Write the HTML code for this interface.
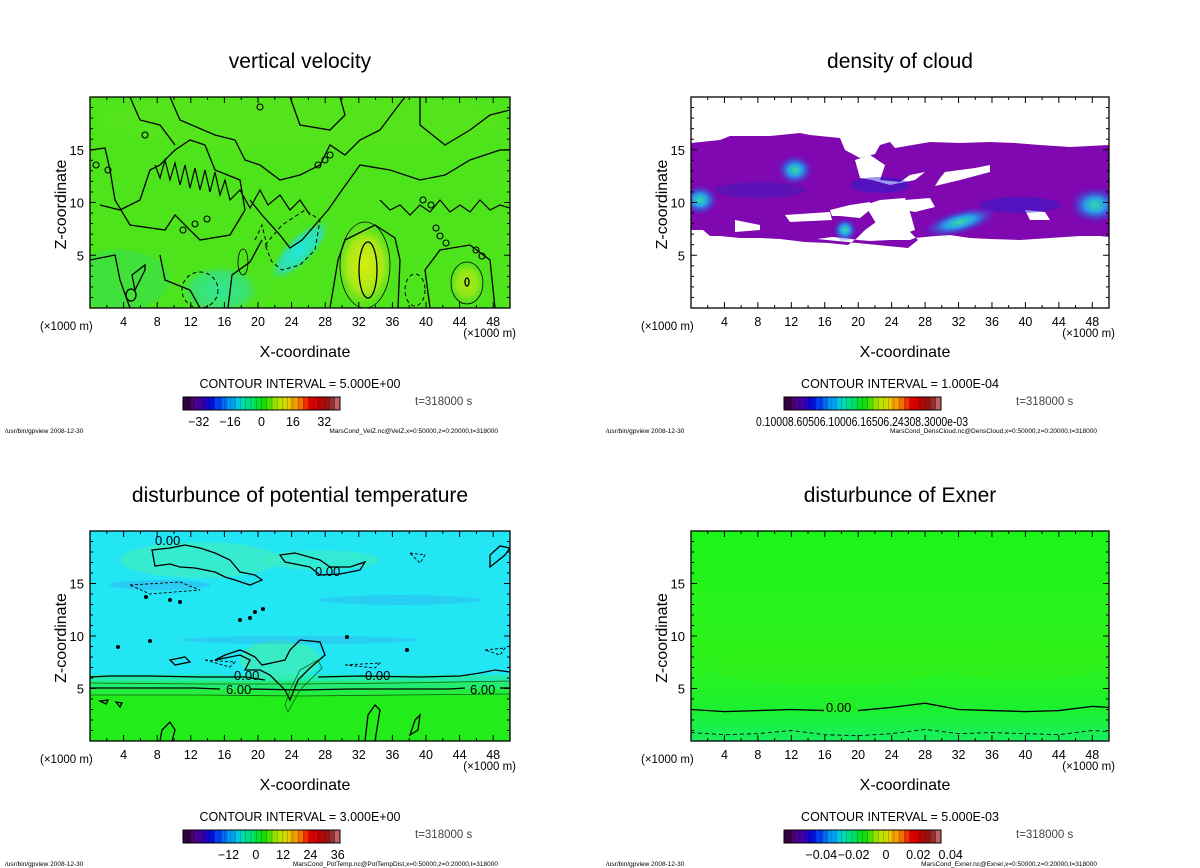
<!DOCTYPE html>
<html><head><meta charset="utf-8">
<style>
html,body{margin:0;padding:0;background:#fff;}
svg{display:block;font-family:"Liberation Sans","DejaVu Sans",sans-serif;}
</style></head>
<body>
<svg id="root" width="1200" height="868" viewBox="0 0 1200 868" xmlns="http://www.w3.org/2000/svg">
<defs>
<clipPath id="c0"><rect x="90" y="97" width="420" height="211"/></clipPath>
<clipPath id="c1"><rect x="691" y="97" width="418" height="211"/></clipPath>
<clipPath id="c2"><rect x="90" y="531" width="420" height="210"/></clipPath>
<clipPath id="c3"><rect x="691" y="531" width="418" height="210"/></clipPath>
<radialGradient id="gy"><stop offset="0" stop-color="#d8ee10"/><stop offset="0.6" stop-color="#a8e818"/><stop offset="1" stop-color="#5ee21c" stop-opacity="0"/></radialGradient>
<radialGradient id="gc"><stop offset="0" stop-color="#20e8e0"/><stop offset="0.7" stop-color="#30e0a0"/><stop offset="1" stop-color="#40e060" stop-opacity="0"/></radialGradient>
<radialGradient id="gb"><stop offset="0" stop-color="#30f0a0"/><stop offset="0.4" stop-color="#20b0f0"/><stop offset="1" stop-color="#2040e0" stop-opacity="0"/></radialGradient>
<linearGradient id="gex" x1="0" y1="0" x2="0" y2="1"><stop offset="0" stop-color="#1cf41a"/><stop offset="0.6" stop-color="#2ef21a"/><stop offset="0.85" stop-color="#1cf030"/><stop offset="1" stop-color="#18f060"/></linearGradient>
</defs>

<!-- Panel 1: vertical velocity -->
<g>
<text x="300" y="68" font-size="21" text-anchor="middle">vertical velocity</text>
<g clip-path="url(#c0)">
<rect x="90" y="97" width="420" height="211" fill="#4ee41c"/>
<ellipse cx="300" cy="120" rx="200" ry="30" fill="#58e41a" opacity="0.6"/>
<ellipse cx="120" cy="280" rx="50" ry="30" fill="#38e050" opacity="0.6"/>
<ellipse cx="220" cy="290" rx="40" ry="25" fill="url(#gc)" opacity="0.6"/>
<ellipse cx="365" cy="265" rx="30" ry="45" fill="url(#gy)"/>
<ellipse cx="467" cy="283" rx="18" ry="22" fill="url(#gy)" opacity="0.7"/>
<ellipse cx="300" cy="250" rx="14" ry="40" fill="url(#gc)" transform="rotate(45 300 250)"/>
<g fill="none" stroke="#000" stroke-width="1.3">
<path d="M90 150 L105 148 L110 170 L115 200 L130 225 L165 230 L175 215 L200 240 L230 235 L245 210 L240 180 L215 170 L205 145 L190 140 L175 150 L160 165 L150 170 L140 200 L120 210 L100 205"/>
<path d="M130 97 L140 120 L160 125 L175 145"/>
<path d="M170 97 L180 120 L215 135 L235 140 L245 160 L260 165 L280 180 L300 175 L320 165 L330 145 L345 155 L360 140 L380 130 L395 110 L405 97"/>
<path d="M290 97 L300 125 L330 130 L345 115 L340 97"/>
<path d="M420 97 L420 125 L445 145 L470 130 L490 115 L510 110"/>
<path d="M250 200 L262 215 L280 235 L290 248 L302 240 L328 210 L342 190 L360 165 L390 170 L420 180 L445 175 L470 160 L500 150 L510 150"/>
<path d="M90 260 L115 255 L120 280 L130 308"/>
<path d="M160 255 L165 280 L190 290 L200 308"/>
<path d="M228 308 L232 275 L250 262 L262 240"/>
<path d="M330 308 L338 260 L345 240 L375 225 L395 238 L400 260 L398 308"/>
<path d="M430 308 L425 270 L440 250 L470 245 L490 260 L495 308"/>
<ellipse cx="368" cy="270" rx="9" ry="28"/>
<ellipse cx="467" cy="282" rx="2" ry="4"/>
<ellipse cx="131" cy="295" rx="5" ry="6"/>
<path d="M132 275 L145 265 L145 270 L135 290 Z"/>
</g>
<g fill="none" stroke="#000" stroke-width="1" stroke-dasharray="4 3">
<path d="M265 245 L282 225 L305 210 L320 220 L315 250 L300 265 L282 270 L272 262 Z"/>
<ellipse cx="200" cy="290" rx="18" ry="18"/>
<ellipse cx="415" cy="290" rx="10" ry="16"/>
<path d="M255 240 L262 225 L268 250"/>
</g>
<g fill="none" stroke="#000" stroke-width="0.8">
<ellipse cx="365" cy="265" rx="25" ry="43"/>
<ellipse cx="467" cy="283" rx="16" ry="21"/>
<ellipse cx="243" cy="262" rx="5" ry="13"/>
</g>
<g fill="none" stroke="#000" stroke-width="1.2">
<path d="M155 165 L160 178 L165 160 L170 180 L175 163 L180 185 L185 165 L190 188 L195 168 L200 190 L205 170 L210 192 L215 172 L220 195 L225 180 L230 200 L240 190 L250 208 L260 190 L268 205 L280 195 L290 210 L300 200 L310 215"/>
<path d="M380 200 L390 210 L400 205 L410 215 L420 205 L430 212 L440 200 L450 212 L460 205 L470 212 L480 200 L490 210 L500 205 L510 208"/>
</g>
<g fill="none" stroke="#000" stroke-width="1.1">
<circle cx="318" cy="165" r="3"/><circle cx="325" cy="160" r="3"/><circle cx="330" cy="155" r="3"/>
<circle cx="183" cy="230" r="3"/><circle cx="195" cy="224" r="3"/><circle cx="207" cy="219" r="3"/>
<circle cx="436" cy="228" r="3"/><circle cx="440" cy="236" r="3"/><circle cx="446" cy="243" r="3"/>
<circle cx="476" cy="250" r="3"/><circle cx="482" cy="256" r="3"/><circle cx="260" cy="107" r="3"/>
<circle cx="145" cy="135" r="3"/><circle cx="96" cy="165" r="3"/><circle cx="108" cy="170" r="3"/>
<circle cx="423" cy="200" r="3"/><circle cx="431" cy="205" r="3"/>
</g>
</g>
</g>

<!-- Panel 2: cloud -->
<g>
<text x="900" y="68" font-size="21" text-anchor="middle">density of cloud</text>
<g clip-path="url(#c1)">
<path fill="#8008b0" d="M691 143 L720 140 L730 136 L770 136 L800 133 L810 135 L840 138 L845 150 L860 158 L875 154 L880 145 L890 142 L895 148 L930 142 L960 143 L990 142 L1015 143 L1040 145 L1070 147 L1109 145 L1109 237 L1100 236 L1080 236 L1050 238 L1020 240 L990 239 L970 238 L950 235 L935 236 L915 238 L910 240 L890 240 L870 241 L858 240 L845 238 L832 237 L817 239 L908 248 L918 240 L910 232 L905 222 L900 212 L895 205 L886 205 L885 212 L876 222 L865 230 L857 238 L848 245 L828 243 L805 242 L780 239 L760 238 L740 238 L720 236 L710 236 L703 230 L691 230 Z"/>
<g fill="#fff">
<path d="M855 160 L870 155 L885 165 L880 180 L900 182 L910 175 L925 172 L915 180 L890 185 L872 180 L860 178 Z"/>
<path d="M945 172 L975 168 L990 165 L990 172 L960 180 L935 186 L940 178 Z"/>
<path d="M905 200 L930 198 L935 207 L915 212 L905 210 Z"/>
<path d="M830 210 L850 205 L870 202 L870 210 L860 218 L840 216 L832 216 Z"/>
<path d="M865 205 L880 200 L905 198 L910 212 L915 230 L900 235 L880 230 Z"/>
<path d="M785 215 L830 212 L832 220 L790 222 Z"/>
<path d="M735 220 L760 225 L760 230 L735 232 Z"/>
<path d="M1025 210 L1045 212 L1050 220 L1030 220 Z"/>
</g>
<g opacity="0.9">
<ellipse cx="700" cy="200" rx="18" ry="15" fill="url(#gb)"/>
<ellipse cx="795" cy="170" rx="18" ry="15" fill="url(#gb)"/>
<ellipse cx="845" cy="230" rx="12" ry="12" fill="url(#gb)"/>
<ellipse cx="960" cy="222" rx="38" ry="12" fill="url(#gb)" transform="rotate(-15 960 222)"/>
<ellipse cx="1095" cy="205" rx="25" ry="18" fill="url(#gb)"/>
<ellipse cx="880" cy="185" rx="30" ry="8" fill="#2020d0" opacity="0.5"/>
<ellipse cx="1020" cy="205" rx="40" ry="8" fill="#2020d0" opacity="0.5"/>
<ellipse cx="760" cy="190" rx="45" ry="8" fill="#3020c0" opacity="0.5"/>
</g>
</g>
</g>

<!-- Panel 3: potential temperature -->
<g>
<text x="300" y="502" font-size="21" text-anchor="middle">disturbunce of potential temperature</text>
<g clip-path="url(#c2)">
<rect x="90" y="531" width="420" height="210" fill="#22ec1a"/>
<rect x="90" y="531" width="420" height="150" fill="#22e6f4"/>
<rect x="90" y="675" width="420" height="6" fill="#24ecb0"/>
<rect x="90" y="681" width="420" height="8" fill="#24ec70"/>
<rect x="90" y="689" width="420" height="6" fill="#24ec40"/>
<ellipse cx="200" cy="560" rx="80" ry="18" fill="#40ecc0" opacity="0.7"/>
<ellipse cx="320" cy="560" rx="60" ry="10" fill="#40ecc0" opacity="0.6"/>
<ellipse cx="280" cy="660" rx="40" ry="20" fill="#40ecb0" opacity="0.7"/>
<ellipse cx="160" cy="585" rx="50" ry="5" fill="#30b8f0" opacity="0.6"/>
<ellipse cx="400" cy="600" rx="80" ry="5" fill="#30b8f0" opacity="0.5"/>
<ellipse cx="300" cy="640" rx="120" ry="4" fill="#30b8f0" opacity="0.5"/>
<g fill="none" stroke="#000" stroke-width="1.3">
<path d="M90 677 L110 676 L150 676 L200 677 L245 677 L265 680"/>
<path d="M318 677 L360 676 L420 677 L460 676 L480 673 L495 670 L510 672"/>
<path d="M152 550 L170 548 L185 545 L200 548 L215 553 L230 560 L240 572 L255 575 L262 580 L250 585 L235 580 L225 577 L215 572 L195 568 L180 567 L170 564 L155 566 Z"/>
<path d="M280 555 L295 553 L320 560 L330 567 L350 567 L365 562 L360 570 L340 574 L320 575 L310 567 L285 562 Z"/>
<path d="M490 567 L505 555 L510 548 L500 546 L490 555 Z"/>
<path d="M215 660 L240 655 L250 660 L245 670 L260 670 L270 675 L285 690 L290 700 L298 680 L310 668 L325 655 L320 642 L300 640 L290 650 L285 660 L262 665 L255 657 L245 652 L240 650 L225 655 Z"/>
<path d="M170 660 L185 657 L190 662 L175 665 Z"/>
<path d="M365 741 L368 715 L375 705 L380 710 L375 741"/>
<path d="M160 741 L162 730 L170 722 L175 730 L172 741"/>
<path d="M410 735 L415 720 L420 715 L418 730 Z"/>
<path d="M100 701 L108 700 L106 704 Z"/>
<path d="M116 702 L122 703 L120 707 Z"/>
</g>
<g fill="none" stroke="#000" stroke-width="1.3">
<path d="M90 688 L130 688 L195 688 L220 689"/>
<path d="M250 689 L300 690 L350 689 L400 689 L450 689 L465 688"/>
<path d="M500 688 L510 688"/>
</g>
<g fill="none" stroke="#106010" stroke-width="0.8">
<path d="M90 683 L200 684 L300 684 L400 683 L510 681"/>
<path d="M90 695 L200 695 L300 696 L400 695 L510 694"/>
<path d="M285 705 L290 690 L300 670 L318 660 L322 668 L300 690 L288 712 Z"/>
</g>
<g fill="none" stroke="#000" stroke-width="0.9" stroke-dasharray="3 2">
<path d="M130 585 L180 582 L200 590 L150 594 Z"/>
<path d="M205 660 L235 662 L230 667 Z"/>
<path d="M345 665 L380 663 L375 668 Z"/>
<path d="M485 650 L505 648 L500 655 Z"/>
<path d="M410 553 L425 555 L420 563 Z"/>
</g>
<g fill="#000">
<circle cx="146" cy="597" r="2"/><circle cx="170" cy="600" r="2"/><circle cx="180" cy="602" r="2"/>
<circle cx="240" cy="620" r="2"/><circle cx="250" cy="618" r="2"/><circle cx="255" cy="612" r="2"/>
<circle cx="263" cy="609" r="2"/><circle cx="118" cy="647" r="2"/><circle cx="150" cy="641" r="2"/>
<circle cx="407" cy="650" r="2"/><circle cx="347" cy="637" r="2"/>
</g>
<g font-size="13">
<text x="155" y="545">0.00</text>
<text x="315" y="576">0.00</text>
<text x="234" y="680">0.00</text>
<text x="365" y="680">0.00</text>
<text x="226" y="694">6.00</text>
<text x="470" y="694">6.00</text>
</g>
</g>
</g>

<!-- Panel 4: Exner -->
<g>
<text x="900" y="502" font-size="21" text-anchor="middle">disturbunce of Exner</text>
<g clip-path="url(#c3)">
<rect x="691" y="531" width="418" height="210" fill="url(#gex)"/>
<ellipse cx="830" cy="665" rx="120" ry="20" fill="#30f018" opacity="0.6"/>
<ellipse cx="1020" cy="660" rx="90" ry="20" fill="#30f018" opacity="0.6"/>
<path id="exner-zero" fill="none" stroke="#000" stroke-width="1.3"/>
<path id="exner-neg" fill="none" stroke="#000" stroke-width="0.9" stroke-dasharray="4 3"/>
<rect x="824" y="700" width="34" height="12" fill="#22ee24"/>
<text x="826" y="712" font-size="13">0.00</text>
</g>
</g>

<g id="axes"></g>
</svg>

<script>
// ---- data ----
const xTicks = [4, 8, 12, 16, 20, 24, 28, 32, 36, 40, 44, 48];
const zTicks = [5, 10, 15];
const cbarTicksVelZ = [-32, -16, 0, 16, 32];
const cbarTicksPot = [-12, 0, 12, 24, 36];
const cbarTicksExner = [-0.04, -0.02, 0, 0.02, 0.04];
const exnerZeroX = [0, 4, 8, 12, 16, 20, 24, 28, 32, 36, 40, 44, 48, 50];
const exnerZeroZ = [3.0, 2.8, 2.9, 3.0, 2.9, 2.9, 3.2, 3.6, 3.0, 2.9, 2.8, 2.9, 3.3, 3.2];
const exnerNegZ = [0.8, 0.6, 0.7, 1.0, 0.6, 0.5, 0.7, 1.1, 0.7, 0.8, 0.7, 0.6, 1.0, 0.9];

const NS = "http://www.w3.org/2000/svg";
const axes = document.getElementById("axes");
function el(tag, attrs, parent, txt) {
  const e = document.createElementNS(NS, tag);
  for (const k in attrs) e.setAttribute(k, attrs[k]);
  if (txt !== undefined) e.textContent = txt;
  (parent || axes).appendChild(e);
  return e;
}
const panels = [
  {x0: 90, x1: 510, y0: 97, y1: 308, ci: "CONTOUR INTERVAL = 5.000E+00", cb: cbarTicksVelZ, cmin: -40, cmax: 40, foot: "MarsCond_VelZ.nc@VelZ,x=0:50000,z=0:20000,t=318000"},
  {x0: 691, x1: 1109, y0: 97, y1: 308, ci: "CONTOUR INTERVAL = 1.000E-04", cb: null, foot: "MarsCond_DensCloud.nc@DensCloud,x=0:50000,z=0:20000,t=318000"},
  {x0: 90, x1: 510, y0: 531, y1: 741, ci: "CONTOUR INTERVAL = 3.000E+00", cb: cbarTicksPot, cmin: -32, cmax: 37, foot: "MarsCond_PotTemp.nc@PotTempDist,x=0:50000,z=0:20000,t=318000"},
  {x0: 691, x1: 1109, y0: 531, y1: 741, ci: "CONTOUR INTERVAL = 5.000E-03", cb: cbarTicksExner, cmin: -0.063, cmax: 0.034, foot: "MarsCond_Exner.nc@Exner,x=0:50000,z=0:20000,t=318000"}
];
const rainbow = ["#300040","#500070","#4000a0","#2000c0","#0010e0","#0040f0","#0070f0","#00a0f0","#00c8e0","#00d8b0","#00e080","#00e040","#10e010","#50e000","#90e000","#c0e000","#e0d000","#f0a000","#f07000","#f03000","#e00000","#c00000","#a01010","#903030","#c06060"];
panels.forEach((p, i) => {
  const g = el("g", {}, axes);
  
  
  const sx = v => p.x0 + (v / 50) * (p.x1 - p.x0);
  const sz = v => p.y1 - (v / 20) * (p.y1 - p.y0);
  const frame = el("rect", {x: p.x0, y: p.y0, width: p.x1 - p.x0, height: p.y1 - p.y0, fill: "none", stroke: "#000", "stroke-width": 1.3}, g);
  
  
  for (let v = 2; v < 50; v += 2) {
    const L = v % 4 === 0 ? 6 : 3;
    el("line", {x1: sx(v), x2: sx(v), y1: p.y1, y2: p.y1 - L, stroke: "#000"}, g);
    el("line", {x1: sx(v), x2: sx(v), y1: p.y0, y2: p.y0 + L, stroke: "#000"}, g);
  }
  for (let v = 1; v < 20; v += 1) {
    const L = v % 5 === 0 ? 6 : 3;
    el("line", {x1: p.x0, x2: p.x0 + L, y1: sz(v), y2: sz(v), stroke: "#000"}, g);
    el("line", {x1: p.x1, x2: p.x1 - L, y1: sz(v), y2: sz(v), stroke: "#000"}, g);
  }
  xTicks.forEach(v => {
    const t = el("text", {x: sx(v), y: p.y1 + 18, "font-size": 12.5, "text-anchor": "middle"}, g, String(v));
    
    
  });
  zTicks.forEach(v => {
    const t = el("text", {x: p.x0 - 6, y: sz(v) + 5, "font-size": 13, "text-anchor": "end"}, g, String(v));
    
    
  });
  const u1 = el("text", {x: p.x0 - 50, y: p.y1 + 22, "font-size": 11.5}, g, "(×1000 m)");
  
  
  const u2 = el("text", {x: p.x1 + 6, y: p.y1 + 29, "font-size": 11.5, "text-anchor": "end"}, g, "(×1000 m)");
  
  
  const xl = el("text", {x: (p.x0 + p.x1) / 2 + 5, y: p.y1 + 49, "font-size": 16, "text-anchor": "middle"}, g, "X-coordinate");
  
  
  const yl = el("text", {x: 0, y: 0, "font-size": 16, "text-anchor": "middle", transform: `translate(${p.x0 - 24},${(p.y0 + p.y1) / 2 + 2}) rotate(-90)`}, g, "Z-coordinate");
  
  
  const ci = el("text", {x: (p.x0 + p.x1) / 2, y: p.y1 + 80, "font-size": 12.5, "text-anchor": "middle"}, g, p.ci);
  
  
  const cx0 = p.x0 + 93, cx1 = p.x0 + 250, cy0 = p.y1 + 89, cy1 = p.y1 + 102;
  const cb = el("g", {}, g);
  
  
  const n = 60, w = (cx1 - cx0) / n;
  for (let k = 0; k < n; k++) {
    const c = rainbow[Math.floor(k / n * rainbow.length)];
    el("rect", {x: cx0 + k * w, y: cy0, width: w + 0.3, height: cy1 - cy0, fill: c}, cb);
    if (k % 2 === 0) el("line", {x1: cx0 + k * w, x2: cx0 + k * w, y1: cy0, y2: cy1, stroke: "#000", "stroke-width": 0.4, opacity: 0.5}, cb);
  }
  el("rect", {x: cx0, y: cy0, width: cx1 - cx0, height: cy1 - cy0, fill: "none", stroke: "#000"}, cb);
  if (p.cb) {
    p.cb.forEach(v => {
      const x = cx0 + (v - p.cmin) / (p.cmax - p.cmin) * (cx1 - cx0);
      const t = el("text", {x: x, y: cy1 + 16, "font-size": 12.5, "text-anchor": "middle"}, cb, v === 0 ? "0" : String(v).replace("-", "−"));
      
      
    });
  } else {
    const t = el("text", {x: cx0 - 28, y: cy1 + 16, "font-size": 13, textLength: 212, lengthAdjust: "spacingAndGlyphs"}, cb, "0.10008.60506.10006.16506.24308.3000e-03");
    
    
  }
  const tt = el("text", {x: p.x0 + 325, y: p.y1 + 97, "font-size": 11.5, fill: "#444"}, g, "t=318000 s");
  
  
  const f1 = el("text", {x: p.x0 - 85, y: p.y1 + 125, "font-size": 6.5}, g, "/usr/bin/gpview  2008-12-30");
  
  
  const f2 = el("text", {x: p.x1 - 12, y: p.y1 + 125, "font-size": 6.5, "text-anchor": "end"}, g, p.foot);
  
  
});
(function () {
  const p = panels[3];
  const sx = v => p.x0 + (v / 50) * (p.x1 - p.x0);
  const sz = v => p.y1 - (v / 20) * (p.y1 - p.y0);
  document.getElementById("exner-zero").setAttribute("d", exnerZeroX.map((x, i) => (i ? "L" : "M") + sx(x) + " " + sz(exnerZeroZ[i])).join(" "));
  document.getElementById("exner-neg").setAttribute("d", exnerZeroX.map((x, i) => (i ? "L" : "M") + sx(x) + " " + sz(exnerNegZ[i])).join(" "));
})();
</script>
</body></html>
